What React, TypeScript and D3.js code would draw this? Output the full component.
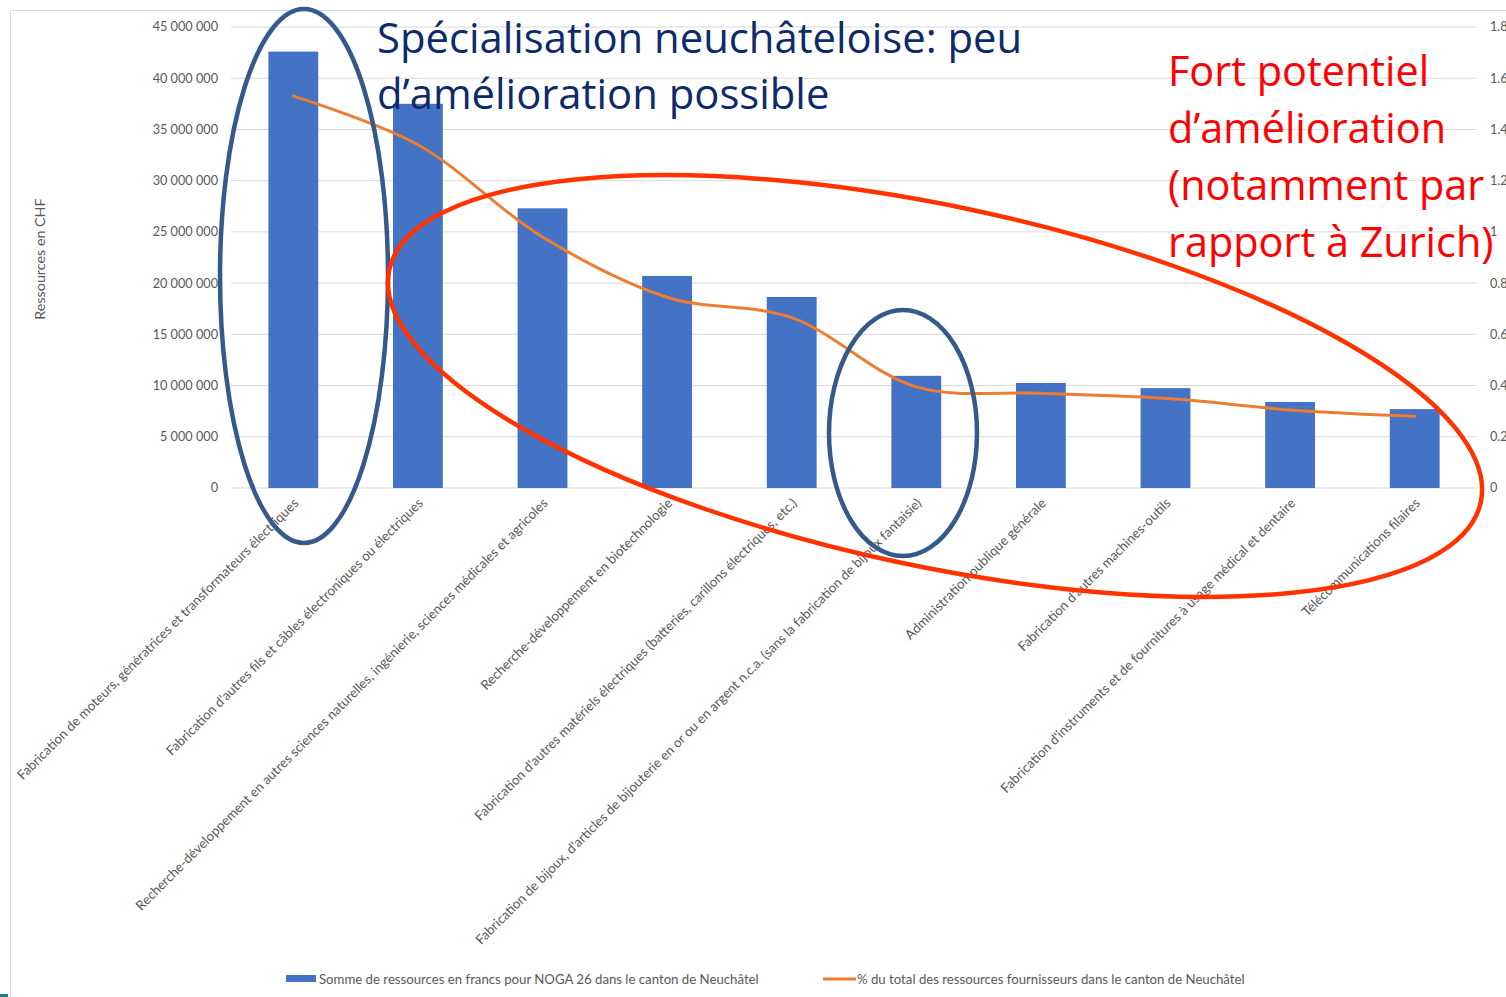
import React from 'react';
import * as d3 from 'd3';

const categories = [
  'Fabrication de moteurs, génératrices et transformateurs électriques',
  "Fabrication d'autres fils et câbles électroniques ou électriques",
  'Recherche-développement en autres sciences naturelles, ingénierie, sciences médicales et agricoles',
  'Recherche-développement en biotechnologie',
  "Fabrication d'autres matériels électriques (batteries, carillons électriques, etc.)",
  "Fabrication de bijoux, d'articles de bijouterie en or ou en argent n.c.a. (sans la fabrication de bijoux fantaisie)",
  'Administration publique générale',
  "Fabrication d'autres machines-outils",
  "Fabrication d'instruments et de fournitures à usage médical et dentaire",
  'Télécommunications filaires',
];

// Somme de ressources en francs (CHF)
const resources = [
  42600000, 37500000, 27300000, 20700000, 18650000,
  10950000, 10250000, 9750000, 8400000, 7700000,
];

// % du total des ressources fournisseurs
const shares = [1.53, 1.34, 0.98, 0.745, 0.665, 0.395, 0.37, 0.35, 0.305, 0.28];

const leftTicks = [0, 5000000, 10000000, 15000000, 20000000, 25000000, 30000000, 35000000, 40000000, 45000000];
const rightTicks = [0, 0.2, 0.4, 0.6, 0.8, 1, 1.2, 1.4, 1.6, 1.8];

const legendLabels = [
  'Somme de ressources en francs pour NOGA 26 dans le canton de Neuchâtel',
  '% du total des ressources fournisseurs dans le canton de Neuchâtel',
];

const blueNote = ['Spécialisation neuchâteloise: peu', 'd’amélioration possible'];
const redNote = ['Fort potentiel', 'd’amélioration', '(notamment par', 'rapport à Zurich)'];

const FONT = 'Lato, sans-serif';
const NOTE_FONT = '"Open Sans", sans-serif';
const BLUE = '#4472c4';
const ORANGE = '#ed7d31';
const GREY = '#595959';

const fmt = d3.formatLocale({ decimal: '.', thousands: ' ', grouping: [3], currency: ['', ''] }).format(',');

export default function App() {
  const width = 1506;
  const height = 997;
  const left = 231;
  const right = 1477;
  const top = 27;
  const bottom = 488;

  const x = d3.scaleBand<string>()
    .domain(categories)
    .range([left, right])
    .paddingInner(0.6)
    .paddingOuter(0.3);
  const yL = d3.scaleLinear().domain([0, 45000000]).range([bottom, top]);
  const yR = d3.scaleLinear().domain([0, 1.8]).range([bottom, top]);
  const cx = (c: string) => (x(c) as number) + x.bandwidth() / 2;

  const line = d3.line<number>()
    .x((_, i) => cx(categories[i]))
    .y(d => yR(d))
    .curve(d3.curveCatmullRom.alpha(0.5));

  return (
    <svg width={width} height={height}
      style={{ position: 'absolute', left: 0, top: 0, background: '#fff', fontFamily: FONT }}>
      <rect x={10.5} y={10.5} width={1600} height={1100} fill="#fff" stroke="#d9d9d9" />

      {/* gridlines */}
      {leftTicks.map(t => (
        <line key={t} x1={left} x2={right} y1={yL(t)} y2={yL(t)} stroke="#d9d9d9" strokeWidth={1} />
      ))}

      {/* left axis labels */}
      {leftTicks.map(t => (
        <text key={'l' + t} x={218} y={yL(t)} dy="0.35em" textAnchor="end" fontSize={12.7} fill={GREY}>
          {fmt(t)}
        </text>
      ))}
      {/* right axis labels */}
      {rightTicks.map(t => (
        <text key={'r' + t} x={1490} y={yR(t)} dy="0.35em" fontSize={12.7} fill={GREY}>
          {+t.toFixed(1)}
        </text>
      ))}

      <text transform="translate(45,259) rotate(-90)" textAnchor="middle" fontSize={14.3} fill={GREY}>
        Ressources en CHF
      </text>

      {/* bars */}
      {categories.map((c, i) => (
        <rect key={c} x={x(c)} y={yL(resources[i])} width={x.bandwidth()}
          height={yL(0) - yL(resources[i])} fill={BLUE} />
      ))}

      {/* line */}
      <path d={line(shares) || ''} fill="none" stroke={ORANGE} strokeWidth={3} strokeLinecap="round" />

      {/* category labels */}
      {categories.map(c => (
        <text key={'c' + c} transform={`translate(${cx(c) + 6},${bottom + 16}) rotate(-45)`}
          textAnchor="end" fontSize={13.3} fill={GREY}>
          {c}
        </text>
      ))}

      {/* legend */}
      <rect x={286} y={975} width={30} height={7} fill={BLUE} />
      <text x={319} y={984} fontSize={13.2} fill={GREY}>{legendLabels[0]}</text>
      <line x1={823} x2={856} y1={979} y2={979} stroke={ORANGE} strokeWidth={3} />
      <text x={857} y={984} fontSize={13.2} fill={GREY}>{legendLabels[1]}</text>

      {/* annotations */}
      <ellipse cx={304} cy={276} rx={84} ry={267} fill="none" stroke="#335a8a" strokeWidth={4.5} />
      <ellipse cx={903} cy={433} rx={74} ry={123} fill="none" stroke="#335a8a" strokeWidth={4.5} />
      <ellipse cx={935} cy={386} rx={558} ry={180} transform="rotate(12 935 386)"
        fill="none" stroke="#ff3300" strokeWidth={4.5} />

      {blueNote.map((t, i) => (
        <text key={t} x={377} y={53 + i * 56} fontSize={41.8} fontFamily={NOTE_FONT} fill="#0d2a6b">{t}</text>
      ))}
      {redNote.map((t, i) => (
        <text key={t} x={1168} y={86 + i * 57} fontSize={41.4} fontFamily={NOTE_FONT} fill="#ff0000">{t}</text>
      ))}

      <rect x={0} y={994} width={8} height={3} fill="#1a7f8a" />
    </svg>
  );
}
